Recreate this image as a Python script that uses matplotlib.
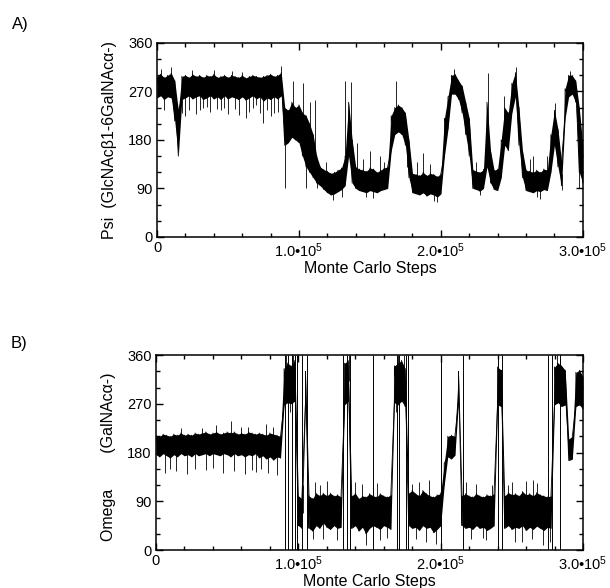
import numpy as np
import matplotlib.pyplot as plt
from matplotlib.ticker import MultipleLocator

plt.rcParams['font.family'] = ['Liberation Sans', 'DejaVu Sans']
plt.rcParams['mathtext.fontset'] = 'custom'
plt.rcParams['mathtext.rm'] = 'Liberation Sans'
plt.rcParams['mathtext.it'] = 'Liberation Sans:italic'

# sampling grid of the trace (Monte Carlo steps)
steps = np.arange(0, 300001, 2500)

# Psi: lower / upper edge of the dense core of the trace
psi_lo = [258, 262, 255, 260, 258, 215, 150, 255, 258, 262, 256, 260, 262, 255, 258, 262,
          256, 260, 255, 262, 256, 260, 258, 255, 260, 254, 258, 262, 256, 260, 252, 258,
          255, 260, 256, 262, 170, 175, 185, 180, 175, 150, 130, 120, 110, 100, 95, 88,
          82, 78, 80, 84, 88, 95, 150, 100, 90, 86, 84, 82, 86, 84, 82, 86,
          88, 90, 160, 190, 195, 190, 170, 110, 82, 80, 78, 82, 76, 80, 78, 74,
          80, 150, 200, 265, 265, 255, 230, 190, 150, 90, 88, 85, 90, 130, 100, 88,
          86, 110, 170, 160, 230, 260, 170, 110, 86, 84, 82, 86, 84, 88, 86, 120,
          170, 130, 95, 220, 260, 265, 250, 120, 100]
psi_hi = [298, 302, 296, 300, 304, 290, 235, 298, 300, 296, 302, 298, 300, 296, 300, 298,
          302, 296, 298, 300, 296, 300, 298, 296, 300, 295, 298, 300, 298, 296, 298, 300,
          302, 298, 300, 305, 240, 235, 250, 240, 245, 230, 225, 210, 190, 150, 130, 125,
          122, 118, 120, 124, 128, 150, 250, 180, 130, 126, 124, 122, 128, 126, 120, 124,
          128, 130, 225, 240, 245, 240, 230, 180, 118, 116, 114, 120, 114, 118, 116, 112,
          118, 220, 260, 300, 302, 290, 280, 250, 220, 125, 122, 120, 125, 250, 160, 124,
          126, 180, 240, 230, 285, 305, 240, 160, 124, 122, 120, 124, 120, 126, 124, 190,
          235, 200, 140, 275, 300, 300, 290, 240, 170]

# Psi: thin excursions sticking out of the core
psi_spike_steps = [2500, 5000, 10000, 17500, 20000, 22500, 25000, 27500, 30000, 32500,
                   35000, 37500, 40000, 42500, 45000, 47500, 50000, 52500, 55000, 57500,
                   60000, 62500, 65000, 67500, 70000, 72500, 75000, 77500, 80000, 82500,
                   85000, 87500, 90000, 96000, 103000, 105000, 108000, 111000, 112500, 119000,
                   124000, 130000, 132500, 137000, 141000, 145000, 147500, 150000, 152000, 157000,
                   160000, 168500, 176000, 183000, 187500, 192500, 195000, 197500, 209000, 225000,
                   227500, 233500, 244500, 253000, 262500, 265000, 268000, 270000, 275000, 280500,
                   285000, 291000, 297500]
psi_spike_vals = [312, 235, 315, 230, 225, 235, 310, 228, 236, 240,
                  242, 232, 310, 238, 235, 240, 228, 308, 238, 226,
                  306, 220, 232, 240, 245, 230, 212, 235, 225, 230,
                  232, 318, 90, 290, 285, 90, 250, 255, 90, 140,
                  68, 75, 290, 288, 175, 145, 74, 160, 72, 150,
                  140, 290, 130, 140, 155, 135, 66, 64, 312, 140,
                  78, 305, 262, 315, 145, 150, 75, 70, 150, 248,
                  88, 308, 90]

# Omega: lower / upper edge of the dense core of the trace
omega_lo = [176, 172, 178, 174, 170, 176, 172, 178, 174, 176, 172, 178, 174, 176, 178, 174,
            178, 176, 174, 178, 176, 172, 178, 174, 176, 172, 176, 174, 178, 170, 174, 168,
            172, 166, 172, 170, 268, 272, 270, 275, 45, 40, 270, 40, 35, 45, 40, 50,
            42, 38, 45, 40, 42, 268, 275, 40, 45, 35, 42, 30, 40, 45, 42, 38,
            45, 42, 38, 272, 268, 275, 265, 45, 40, 42, 36, 45, 40, 42, 32, 38,
            45, 120, 172, 168, 175, 272, 45, 40, 42, 38, 45, 40, 42, 36, 40, 45,
            268, 265, 40, 45, 38, 42, 40, 45, 36, 42, 38, 44, 40, 36, 42, 40,
            268, 272, 265, 268, 165, 168, 265, 268, 260]
omega_hi = [212, 210, 214, 212, 210, 214, 212, 216, 212, 214, 212, 216, 214, 216, 218, 214,
            216, 218, 214, 216, 218, 216, 218, 214, 216, 214, 218, 216, 214, 216, 214, 212,
            216, 214, 212, 210, 335, 345, 340, 350, 100, 95, 330, 100, 95, 105, 100, 105,
            100, 105, 100, 102, 98, 345, 350, 100, 105, 95, 100, 98, 104, 100, 98, 104,
            100, 98, 102, 340, 345, 350, 335, 105, 110, 104, 100, 110, 104, 100, 98, 102,
            104, 160, 210, 212, 210, 330, 100, 104, 100, 98, 104, 100, 98, 102, 100, 104,
            338, 332, 100, 106, 102, 104, 100, 108, 102, 104, 100, 106, 102, 100, 98, 100,
            338, 345, 340, 332, 205, 210, 328, 332, 320]

# Omega: thin excursions sticking out of the core
omega_spike_steps = [6000, 10000, 14000, 17500, 22000, 27500, 32500, 35000, 40000, 42500,
                     47000, 52500, 55000, 60000, 62500, 65000, 67500, 70000, 74000, 77000,
                     79000, 82500, 85000, 91000, 94000, 96500, 103000, 110000, 112000, 115000,
                     117500, 120000, 127000, 135500, 140000, 145000, 147500, 155000, 157500, 162000,
                     168500, 170000, 174000, 180000, 183000, 185000, 190000, 192000, 197000, 218000,
                     221000, 225000, 230000, 232000, 236000, 247500, 250000, 252500, 257000, 260000,
                     264000, 265000, 268000, 272000, 277000, 281500, 284000]
omega_spike_vals = [142, 150, 145, 226, 140, 150, 225, 148, 152, 231,
                    142, 238, 146, 228, 140, 228, 148, 144, 150, 232,
                    142, 228, 138, 360, 255, 360, 120, 20, 125, 120,
                    20, 128, 18, 360, 125, 122, 10, 124, 18, 22,
                    255, 360, 360, 122, 20, 125, 15, 130, 12, 125,
                    20, 122, 22, 18, 120, 120, 126, 15, 15, 128,
                    20, 130, 124, 10, 15, 360, 360]

# steps where Omega wraps round 360 -> 0
omega_wraps = [90600, 93000, 95300, 97700, 98800, 102400, 105900, 131600, 134000, 136300,
               152500, 169600, 171000, 176000, 177300, 200200, 215900, 240500, 242900,
               275600, 278000, 283800]

xticks = [0, 100000, 200000, 300000]
xtick_labels = ['0', '1.0•10$^{5}$', '2.0•10$^{5}$', '3.0•10$^{5}$']
yticks = [0, 90, 180, 270, 360]


def draw_trace(ax, lo, hi, spike_steps, spike_vals):
    lo = np.asarray(lo)
    hi = np.asarray(hi)
    # dense core of the trace as a filled band, plus a thin zig-zag through the samples
    ax.fill_between(steps, lo, hi, color='black', lw=0)
    x = np.repeat(steps, 2)
    y = np.column_stack([lo, hi]).ravel()
    ax.plot(x, y, color='black', lw=0.6)
    # thin spikes leave the core at the nearest sample
    idx = np.rint(np.asarray(spike_steps) / 2500).astype(int)
    base = (lo[idx] + hi[idx]) / 2
    ax.vlines(spike_steps, base, spike_vals, color='black', lw=0.6)


def style_axis(ax, ylabel, ylabel_y=0.5):
    ax.set_xlim(0, 300000)
    ax.set_ylim(0, 360)
    ax.set_xticks(xticks)
    ax.set_xticklabels(xtick_labels)
    ax.set_yticks(yticks)
    ax.xaxis.set_minor_locator(MultipleLocator(20000))
    ax.yaxis.set_minor_locator(MultipleLocator(30))
    ax.tick_params(which='both', direction='in', top=True, right=True, width=1,
                   labelsize=10.5, pad=3)
    ax.tick_params(which='major', length=5)
    ax.tick_params(which='minor', length=3)
    for s in ax.spines.values():
        s.set_linewidth(1.1)
    ax.set_xlabel('Monte Carlo Steps', fontsize=11.5, labelpad=1)
    ax.set_ylabel(ylabel, fontsize=11.5)
    ax.yaxis.set_label_coords(-0.094, ylabel_y)


fig = plt.figure(figsize=(6.1, 5.88), dpi=100)

ax1 = fig.add_axes([0.2574, 0.597, 0.698, 0.330])
draw_trace(ax1, psi_lo, psi_hi, psi_spike_steps, psi_spike_vals)
style_axis(ax1, 'Psi  (GlcNAcβ1-6GalNAcα-)')

ax2 = fig.add_axes([0.2557, 0.0646, 0.700, 0.3316])
draw_trace(ax2, omega_lo, omega_hi, omega_spike_steps, omega_spike_vals)
ax2.vlines(omega_wraps, 0, 360, color='black', lw=0.7)
style_axis(ax2, 'Omega        (GalNAcα-)', 0.48)

fig.text(0.033, 0.958, 'A)', fontsize=12, ha='center', va='center')
fig.text(0.031, 0.415, 'B)', fontsize=12, ha='center', va='center')

fig.savefig('out.png', dpi=100)
